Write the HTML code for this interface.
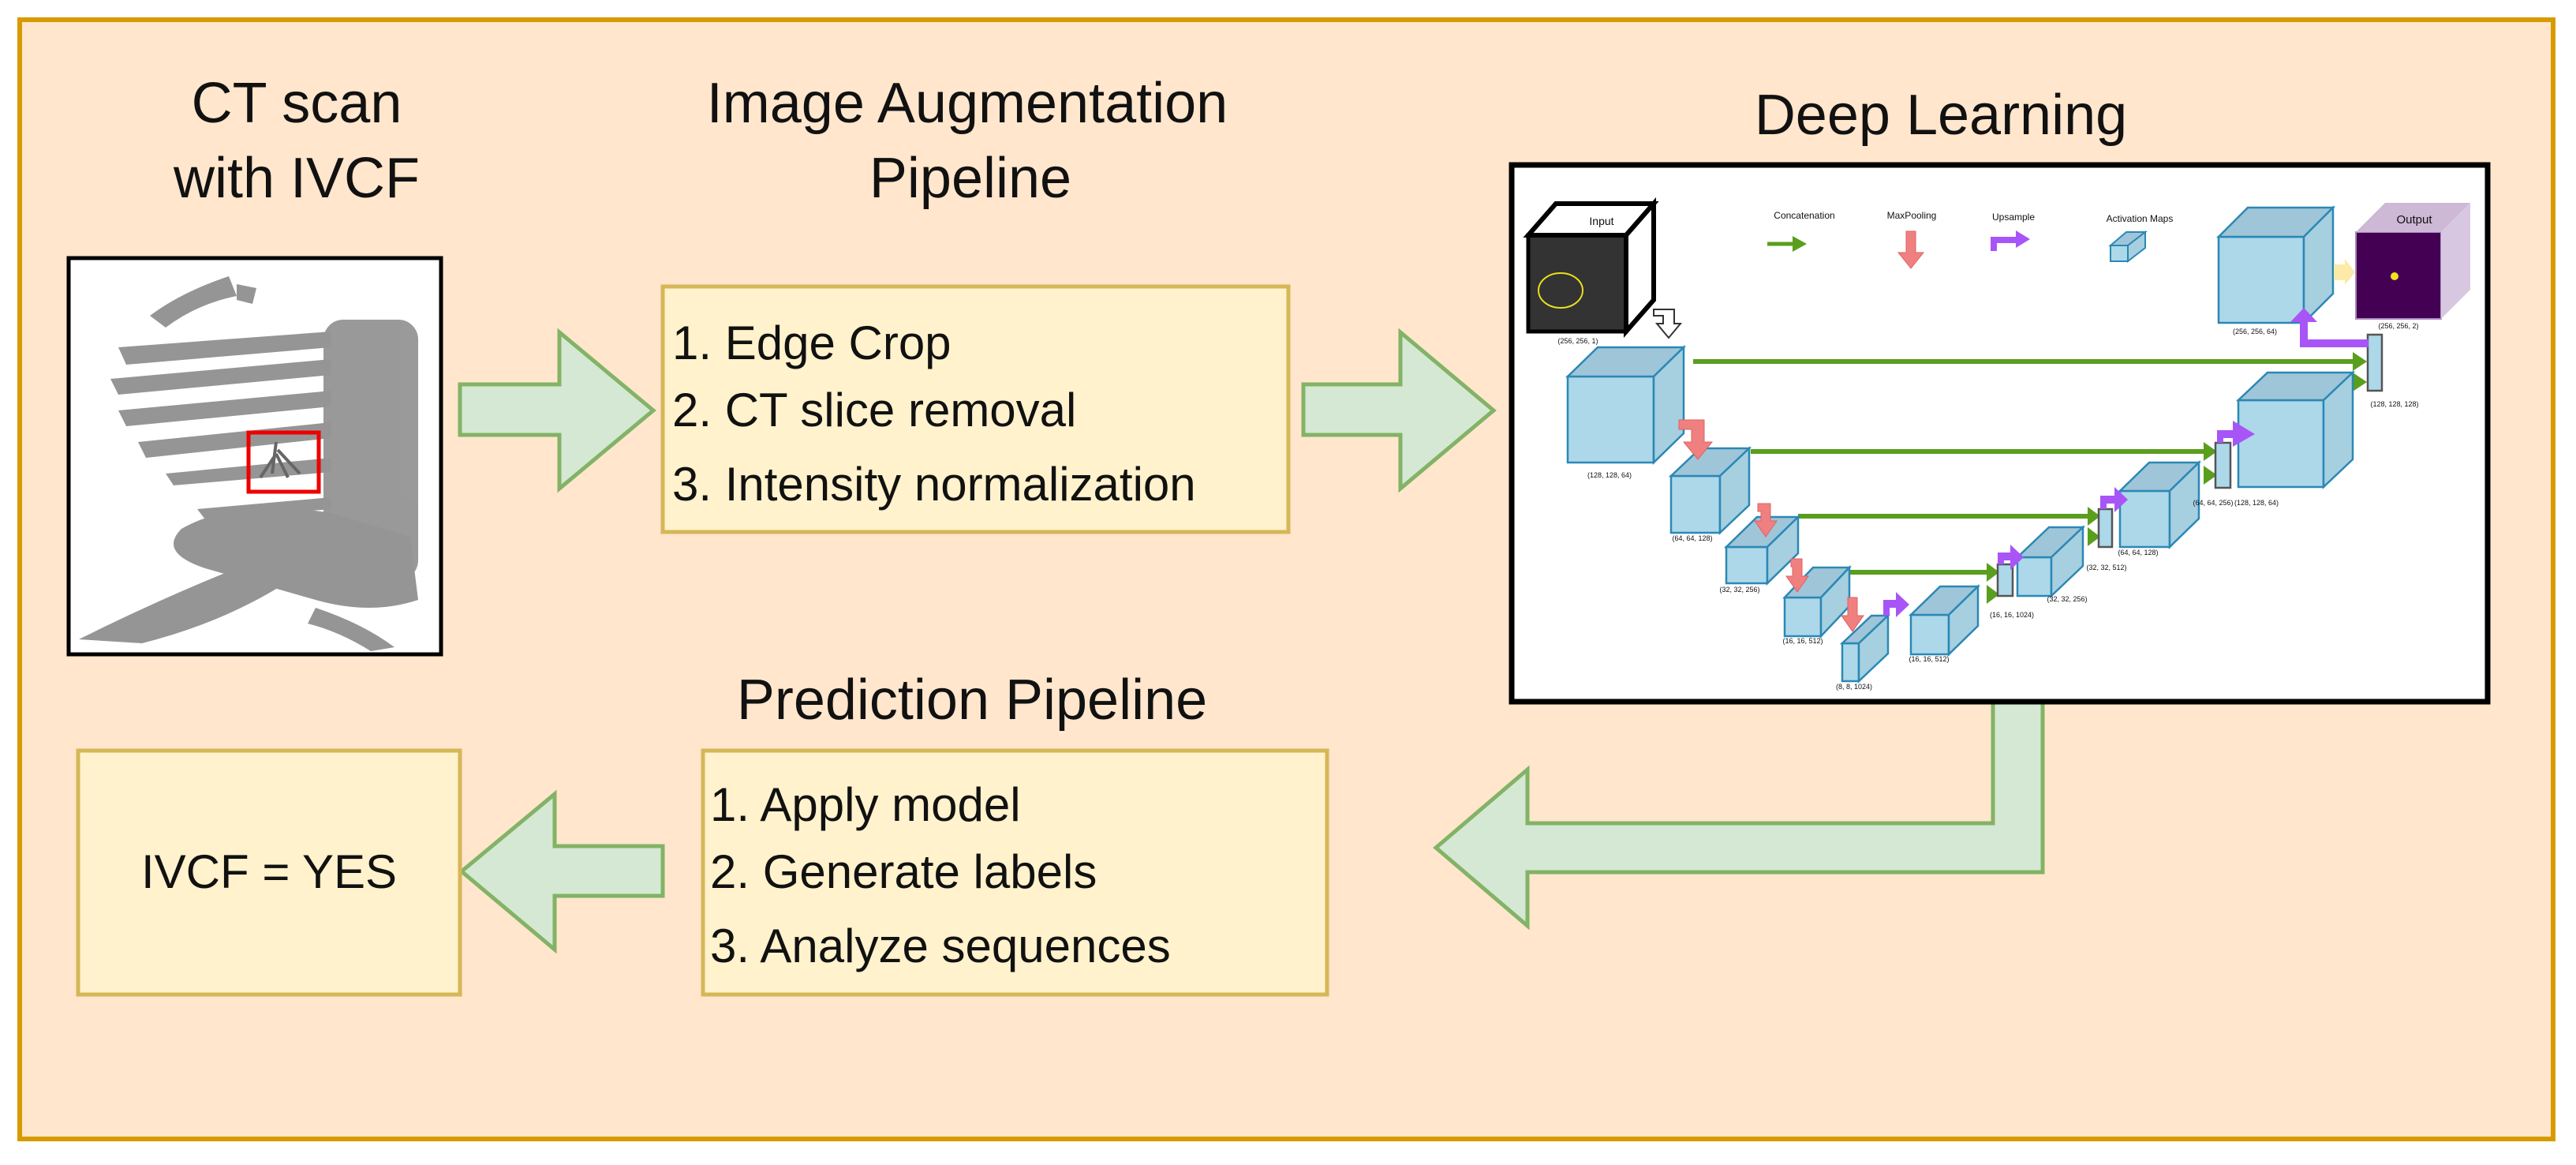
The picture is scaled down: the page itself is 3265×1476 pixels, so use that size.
<!DOCTYPE html>
<html><head><meta charset="utf-8"><style>
html,body{margin:0;padding:0;background:#fff;}
svg{display:block;}
text{font-family:"Liberation Sans",Arial,sans-serif;fill:#111;}
</style></head><body>
<svg width="3265" height="1476" viewBox="0 0 3265 1476" xmlns="http://www.w3.org/2000/svg">
<rect x="25" y="25" width="3211" height="1418" fill="#ffe6cc" stroke="#d79b00" stroke-width="6"/>

<!-- Titles -->
<text x="376" y="155" font-size="72" text-anchor="middle">CT scan</text>
<text x="376" y="250" font-size="72" text-anchor="middle">with IVCF</text>
<text x="1226" y="155" font-size="72" text-anchor="middle">Image Augmentation</text>
<text x="1230" y="250" font-size="72" text-anchor="middle">Pipeline</text>
<text x="2460" y="170" font-size="72" text-anchor="middle">Deep Learning</text>
<text x="1232" y="911" font-size="72" text-anchor="middle">Prediction Pipeline</text>

<!-- CT image -->
<rect x="87" y="327" width="472" height="502" fill="#fff" stroke="#000" stroke-width="5"/>
<g fill="#8a8a8a" opacity="0.9">
<path d="M190 400 Q230 370 290 350 L300 375 Q250 385 210 415 Z"/>
<path d="M300 360 L325 365 L320 385 L300 380Z"/>
<rect x="410" y="405" width="120" height="330" rx="25" fill="#8f8f8f"/>
<path d="M150 440 L420 420 L420 440 L160 462Z"/>
<path d="M140 480 L420 455 L420 475 L150 500Z"/>
<path d="M150 520 L420 495 L420 515 L160 540Z"/>
<path d="M175 560 L420 535 L420 555 L185 580Z"/>
<path d="M210 600 L420 580 L420 598 L220 615Z"/>
<path d="M250 645 L420 630 L420 645 L260 658Z"/>
<path d="M230 670 Q300 630 420 650 L520 680 L530 760 Q470 780 400 760 Q330 740 260 720 Q200 700 230 670Z"/>
<path d="M100 810 Q200 760 300 720 L360 740 Q280 790 180 815 Z"/>
<path d="M400 770 Q460 790 500 820 L470 825 Q430 800 390 790Z"/>
</g>
<rect x="315" y="548" width="89" height="75" fill="none" stroke="#e00" stroke-width="5"/>
<path d="M350 560 L345 600 M350 575 L330 605 M350 575 L365 605 M352 570 L380 600" stroke="#666" stroke-width="4" fill="none"/>

<!-- Aug box -->
<rect x="840" y="363" width="793" height="311" fill="#fff2cc" stroke="#d6b656" stroke-width="5"/>
<text x="852" y="455" font-size="60">1. Edge Crop</text>
<text x="852" y="540" font-size="60">2. CT slice removal</text>
<text x="852" y="634" font-size="60">3. Intensity normalization</text>

<!-- Arrows -->
<g fill="#d5e8d4" stroke="#82b366" stroke-width="5" stroke-linejoin="miter">
<polygon points="583,487 709,487 709,421 828,520 709,619 709,551 583,551"/>
<polygon points="1652,487 1775,487 1775,421 1893,520 1775,619 1775,551 1652,551"/>
<polygon points="840,1072 703,1072 703,1006 585,1104 703,1203 703,1135 840,1135"/>
<polygon points="2526,889 2589,889 2589,1105 1936,1105 1936,1173 1820,1074 1936,975 1936,1043 2526,1043"/>
</g>

<!-- IVCF box -->
<rect x="99" y="951" width="484" height="309" fill="#fff2cc" stroke="#d6b656" stroke-width="5"/>
<text x="341" y="1125" font-size="60" text-anchor="middle">IVCF = YES</text>

<!-- Pred box -->
<rect x="891" y="951" width="791" height="309" fill="#fff2cc" stroke="#d6b656" stroke-width="5"/>
<text x="900" y="1040" font-size="60">1. Apply model</text>
<text x="900" y="1125" font-size="60">2. Generate labels</text>
<text x="900" y="1219" font-size="60">3. Analyze sequences</text>

<!-- DL box -->
<rect x="1916" y="209" width="1237" height="680" fill="#fff" stroke="#000" stroke-width="7"/>

<!-- Input cube -->
<rect x="1937" y="298" width="124" height="122" fill="#333"/>
<polygon points="1937,298 1972,258 2096,258 2061,298" fill="#fff" stroke="#000" stroke-width="6"/>
<polygon points="2061,298 2096,258 2096,380 2061,420" fill="#fff" stroke="#000" stroke-width="6"/>
<rect x="1937" y="298" width="124" height="122" fill="none" stroke="#000" stroke-width="5"/>
<ellipse cx="1978" cy="368" rx="28" ry="22" fill="none" stroke="#e8e020" stroke-width="2"/>
<text x="2030" y="285" font-size="14" text-anchor="middle">Input</text>
<path d="M2096 392 L2122 392 L2122 410 L2130 410 L2115 428 L2100 410 L2108 410 L2108 400 L2096 400Z" fill="#fff" stroke="#333" stroke-width="2"/>

<!-- Legend -->
<g font-size="12" fill="#333">
<text x="2287" y="277" text-anchor="middle">Concatenation</text>
<text x="2423" y="277" text-anchor="middle">MaxPooling</text>
<text x="2552" y="279" text-anchor="middle">Upsample</text>
<text x="2712" y="281" text-anchor="middle">Activation Maps</text>
</g>
<line x1="2240" y1="309" x2="2275" y2="309" stroke="#5a9e1e" stroke-width="5"/>
<polygon points="2272,299 2290,309 2272,319" fill="#5a9e1e"/>
<path d="M2416 293 L2428 293 L2428 320 L2438 320 L2422 340 L2406 320 L2416 320Z" fill="#f08080" stroke="#e06060"/>
<path d="M2523 318 L2523 300 L2555 300 L2555 292 L2573 303 L2555 314 L2555 308 L2531 308 L2531 318Z" fill="#a855f7"/>
<g fill="#add8ea" stroke="#2b88b5" stroke-width="2">
<rect x="2675" y="311" width="22" height="20"/>
<polygon points="2675,311 2695,294 2719,294 2697,311" fill="#9fc5d8"/>
<polygon points="2697,311 2719,294 2719,314 2697,331" fill="#a6cfe0"/>
</g>

<!-- skip connections -->
<g stroke="#5a9e1e" stroke-width="6">
<line x1="2146" y1="458" x2="2985" y2="458"/>
<line x1="2219" y1="572" x2="2795" y2="572"/>
<line x1="2279" y1="654" x2="2648" y2="654"/>
<line x1="2344" y1="725" x2="2520" y2="725"/>
</g>
<g fill="#5a9e1e">
<polygon points="2982,446 3000,458 2982,470"/><polygon points="2982,472 3000,484 2982,496"/>
<polygon points="2793,560 2810,572 2793,584"/><polygon points="2793,590 2810,602 2793,614"/>
<polygon points="2646,642 2662,654 2646,666"/><polygon points="2646,668 2662,680 2646,692"/>
<polygon points="2518,713 2534,725 2518,737"/><polygon points="2518,741 2534,753 2518,765"/>
</g>

<!-- cubes -->
<g stroke="#2b88b5" stroke-width="2.5">
<g><rect x="1987" y="477" width="109" height="109" fill="#add8ea"/><polygon points="1987,477 2025,440 2134,440 2096,477" fill="#9fc5d8"/><polygon points="2096,477 2134,440 2134,549 2096,586" fill="#a6cfe0"/></g>
<g><rect x="2118" y="603" width="62" height="72" fill="#add8ea"/><polygon points="2118,603 2155,568 2217,568 2180,603" fill="#9fc5d8"/><polygon points="2180,603 2217,568 2217,640 2180,675" fill="#a6cfe0"/></g>
<g><rect x="2188" y="693" width="52" height="46" fill="#add8ea"/><polygon points="2188,693 2227,655 2279,655 2240,693" fill="#9fc5d8"/><polygon points="2240,693 2279,655 2279,701 2240,739" fill="#a6cfe0"/></g>
<g><rect x="2262" y="757" width="46" height="49" fill="#add8ea"/><polygon points="2262,757 2298,719 2344,719 2308,757" fill="#9fc5d8"/><polygon points="2308,757 2344,719 2344,768 2308,806" fill="#a6cfe0"/></g>
<g><rect x="2335" y="815" width="21" height="48" fill="#add8ea"/><polygon points="2335,815 2372,780 2393,780 2356,815" fill="#9fc5d8"/><polygon points="2356,815 2393,780 2393,828 2356,863" fill="#a6cfe0"/></g>
<g><rect x="2422" y="779" width="48" height="50" fill="#add8ea"/><polygon points="2422,779 2459,743 2507,743 2470,779" fill="#9fc5d8"/><polygon points="2470,779 2507,743 2507,793 2470,829" fill="#a6cfe0"/></g>
<g><rect x="2557" y="706" width="43" height="49" fill="#add8ea"/><polygon points="2557,706 2597,668 2640,668 2600,706" fill="#9fc5d8"/><polygon points="2600,706 2640,668 2640,717 2600,755" fill="#a6cfe0"/></g>
<g><rect x="2687" y="622" width="63" height="71" fill="#add8ea"/><polygon points="2687,622 2724,586 2787,586 2750,622" fill="#9fc5d8"/><polygon points="2750,622 2787,586 2787,657 2750,693" fill="#a6cfe0"/></g>
<g><rect x="2837" y="507" width="108" height="110" fill="#add8ea"/><polygon points="2837,507 2874,472 2982,472 2945,507" fill="#9fc5d8"/><polygon points="2945,507 2982,472 2982,582 2945,617" fill="#a6cfe0"/></g>
<g><rect x="2812" y="300" width="108" height="109" fill="#add8ea"/><polygon points="2812,300 2849,263 2957,263 2920,300" fill="#9fc5d8"/><polygon points="2920,300 2957,263 2957,372 2920,409" fill="#a6cfe0"/></g>
</g>
<!-- bars -->
<g fill="#add8ea" stroke="#555" stroke-width="2.5">
<rect x="2532" y="715" width="19" height="40"/>
<rect x="2660" y="645" width="17" height="48"/>
<rect x="2808" y="561" width="19" height="57"/>
<rect x="3001" y="424" width="18" height="71"/>
</g>
<!-- output cube -->
<rect x="2986" y="294" width="108" height="110" fill="#440154" stroke="#a98bbd" stroke-width="2"/>
<polygon points="2986,294 3023,257 3131,257 3094,294" fill="#cdb8d6"/>
<polygon points="3094,294 3131,257 3131,367 3094,404" fill="#d7c7e0"/>
<circle cx="3035" cy="350" r="5" fill="#f0e020"/>
<text x="3060" y="283" font-size="15" text-anchor="middle">Output</text>
<polygon points="2958,335 2972,335 2972,328 2985,345 2972,361 2972,355 2958,355" fill="#fde9a8"/>

<!-- pooling arrows -->
<g fill="#f08080" stroke="#e06060" stroke-width="1">
<path d="M2128 532 L2160 532 L2160 560 L2170 560 L2152 582 L2134 560 L2144 560 L2144 544 L2128 544Z"/>
<path d="M2228 638 L2244 638 L2244 660 L2252 660 L2238 680 L2224 660 L2232 660 L2232 648 L2228 648Z"/>
<path d="M2270 708 L2284 708 L2284 730 L2292 730 L2278 750 L2264 730 L2272 730 L2272 718 L2270 718Z"/>
<path d="M2342 757 L2354 757 L2354 780 L2362 780 L2348 800 L2334 780 L2342 780Z"/>
</g>
<!-- upsample arrows -->
<g fill="#a855f7">
<path d="M2387 780 L2387 760 L2403 760 L2403 750 L2420 766 L2403 782 L2403 770 L2395 770 L2395 780Z"/>
<path d="M2532 715 L2532 700 L2548 700 L2548 690 L2565 706 L2548 722 L2548 710 L2540 710 L2540 715Z"/>
<path d="M2662 645 L2662 628 L2680 628 L2680 617 L2697 633 L2680 649 L2680 638 L2670 638 L2670 645Z"/>
<path d="M2810 561 L2810 545 L2830 545 L2830 533 L2858 550 L2830 566 L2830 555 L2818 555 L2818 561Z"/>
<path d="M3002 430 L2925 430 L2925 408 L2937 408 L2920 390 L2903 408 L2915 408 L2915 440 L3002 440Z"/>
</g>
<!-- dim labels -->
<g font-size="9" fill="#666" text-anchor="middle">
<text x="2000" y="435">(256, 256, 1)</text>
<text x="2040" y="605">(128, 128, 64)</text>
<text x="2145" y="685">(64, 64, 128)</text>
<text x="2205" y="750">(32, 32, 256)</text>
<text x="2285" y="815">(16, 16, 512)</text>
<text x="2350" y="873">(8, 8, 1024)</text>
<text x="2445" y="838">(16, 16, 512)</text>
<text x="2550" y="782">(16, 16, 1024)</text>
<text x="2620" y="762">(32, 32, 256)</text>
<text x="2670" y="722">(32, 32, 512)</text>
<text x="2710" y="703">(64, 64, 128)</text>
<text x="2805" y="640">(64, 64, 256)</text>
<text x="2860" y="640">(128, 128, 64)</text>
<text x="3035" y="515">(128, 128, 128)</text>
<text x="2858" y="423">(256, 256, 64)</text>
<text x="3040" y="416">(256, 256, 2)</text>
</g>
</svg>
</body></html>
